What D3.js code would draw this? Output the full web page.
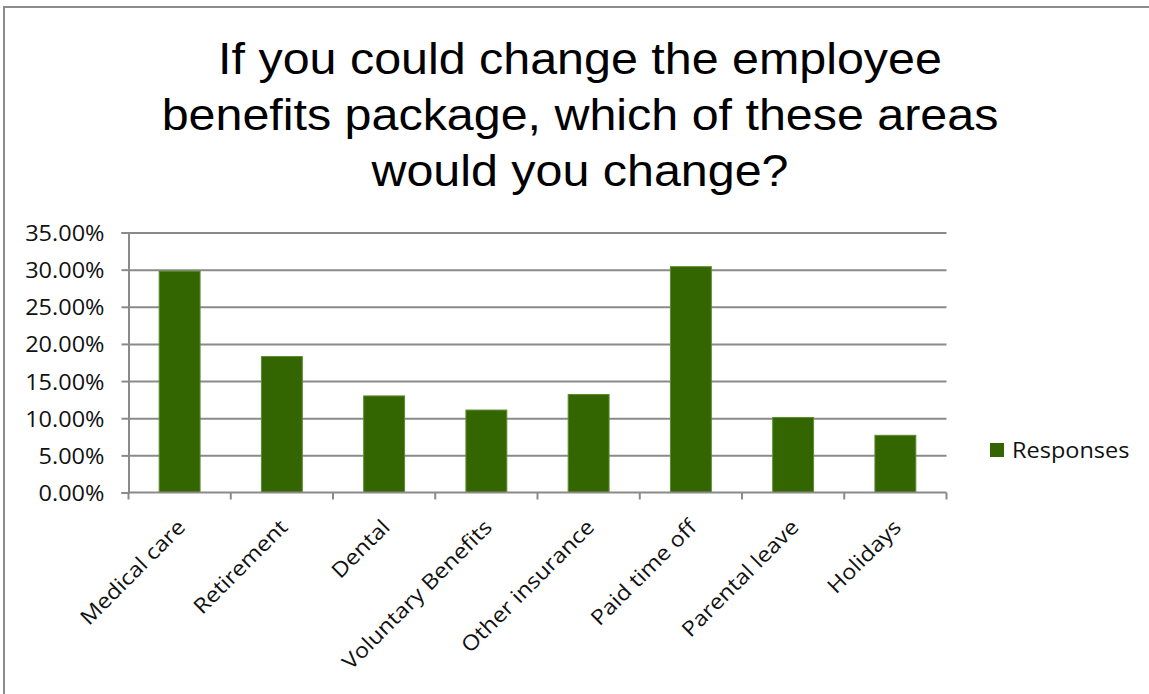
<!DOCTYPE html>
<html>
<head>
<meta charset="utf-8">
<script src="https://cdn.jsdelivr.net/npm/d3@7"></script>
<style>
  html, body { margin: 0; padding: 0; background: #fff; }
  svg { display: block; }
</style>
</head>
<body>
<svg id="chart" width="1149" height="694"></svg>
<script>
// Survey results: share of responses per benefit area
const categories = ["Medical care", "Retirement", "Dental", "Voluntary Benefits",
                    "Other insurance", "Paid time off", "Parental leave", "Holidays"];
const responses = [0.298, 0.183, 0.130, 0.111, 0.132, 0.304, 0.101, 0.077];
const yTicks = [0, 0.05, 0.10, 0.15, 0.20, 0.25, 0.30, 0.35];
const seriesName = "Responses";
const titleLines = ["If you could change the employee",
                    "benefits package, which of these areas",
                    "would you change?"];

const svg = d3.select("#chart");
const W = 1149, H = 694;
const plot = { left: 128.5, right: 946.5, top: 232.5, bottom: 492.5 };
const gridColor = "#8a8a8a";
const textColor = "#111";
const labelFont = "'Open Sans', sans-serif";
const labelSize = 21;
const labelStretch = 1.12;

// chart frame
svg.append("rect").attr("width", W).attr("height", H).attr("fill", "#fff");
svg.append("rect")
  .attr("x", 4).attr("y", 7).attr("width", W + 20).attr("height", H + 20)
  .attr("fill", "#fff").attr("stroke", "#8c8c8c").attr("stroke-width", 2);

// title
const title = svg.append("g")
  .attr("font-family", "'Liberation Sans', Arial, sans-serif")
  .attr("font-size", 44).attr("fill", "#000");
titleLines.forEach((line, i) => {
  title.append("text")
    .attr("text-anchor", "middle")
    .attr("transform", `translate(580,${74 + i * 56}) scale(1.1,1)`)
    .text(line);
});

const x = d3.scaleBand().domain(categories)
  .range([plot.left, plot.right]).paddingInner(0.6).paddingOuter(0.3);
const y = d3.scaleLinear().domain([0, 0.35]).range([plot.bottom, plot.top]);

// horizontal gridlines
svg.append("g")
  .attr("transform", `translate(${plot.left},0)`)
  .call(d3.axisLeft(y).tickValues(yTicks.filter(d => d > 0))
    .tickSize(-(plot.right - plot.left)).tickFormat(""))
  .call(g => g.select(".domain").remove())
  .call(g => g.selectAll("line").attr("stroke", gridColor).attr("stroke-width", 2));

// bars
svg.append("g").selectAll("rect")
  .data(responses)
  .join("rect")
  .attr("x", (d, i) => x(categories[i]))
  .attr("y", d => y(d))
  .attr("width", x.bandwidth())
  .attr("height", d => y(0) - y(d))
  .attr("fill", "#336600")
  .attr("stroke", "#5d8c30")
  .attr("stroke-width", 1);

// y axis
const yAxis = svg.append("g")
  .attr("transform", `translate(${plot.left},0)`)
  .call(d3.axisLeft(y).tickValues(yTicks).tickFormat(d3.format(".2%")).tickSize(7));
yAxis.select(".domain").attr("stroke", gridColor).attr("stroke-width", 2);
yAxis.selectAll(".tick line").attr("stroke", gridColor).attr("stroke-width", 2);
yAxis.selectAll(".tick text")
  .attr("font-family", labelFont).attr("font-size", labelSize).attr("fill", textColor)
  .attr("x", null).attr("dy", null)
  .attr("dominant-baseline", "central")
  .attr("transform", `translate(-24,0) scale(${labelStretch},1)`);

// x axis baseline and category boundary ticks
const step = x.step();
const boundaries = d3.range(categories.length + 1).map(i => plot.left + i * step);
svg.append("line")
  .attr("x1", plot.left).attr("x2", plot.right)
  .attr("y1", y(0)).attr("y2", y(0))
  .attr("stroke", gridColor).attr("stroke-width", 2);
svg.append("g").selectAll("line")
  .data(boundaries)
  .join("line")
  .attr("x1", d => d).attr("x2", d => d)
  .attr("y1", y(0)).attr("y2", y(0) + 7)
  .attr("stroke", gridColor).attr("stroke-width", 2);

// rotated category labels
svg.append("g").selectAll("text")
  .data(categories)
  .join("text")
  .attr("text-anchor", "end")
  .attr("font-family", labelFont).attr("font-size", labelSize).attr("fill", textColor)
  .attr("transform", d => `translate(${x(d) + x.bandwidth() / 2 + 7},${y(0) + 36}) rotate(-45) scale(${labelStretch},1)`)
  .text(d => d);

// legend
const legend = svg.append("g").attr("transform", "translate(990,443)");
legend.append("rect").attr("width", 14).attr("height", 14).attr("fill", "#336600");
legend.append("text")
  .attr("dominant-baseline", "central")
  .attr("font-family", labelFont).attr("font-size", labelSize).attr("fill", textColor)
  .attr("transform", `translate(22,7) scale(${labelStretch},1)`)
  .text(seriesName);
</script>
</body>
</html>
